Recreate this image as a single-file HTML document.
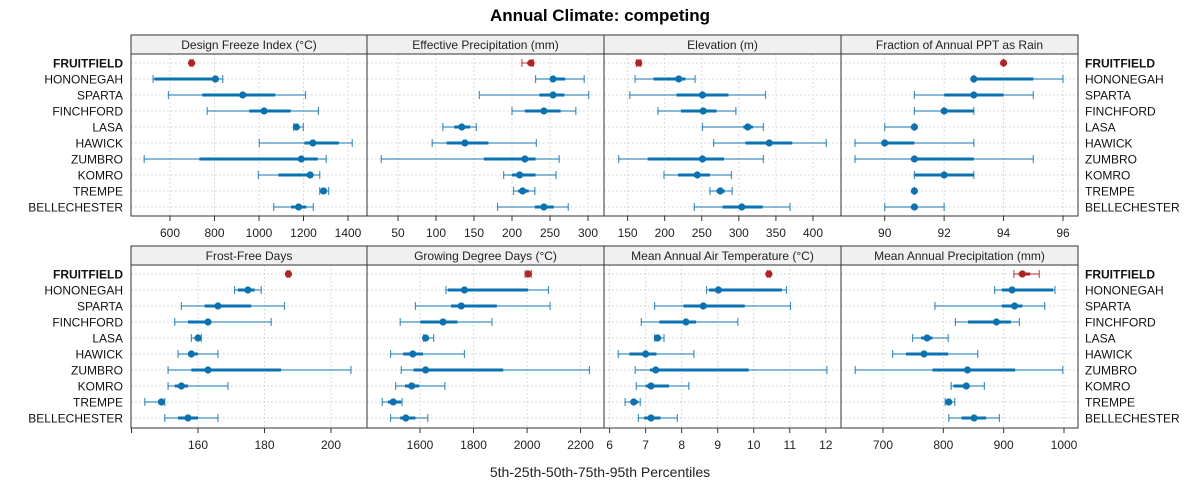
<!DOCTYPE html>
<html><head><meta charset="utf-8">
<style>
html,body{margin:0;padding:0;background:#fff;}
svg{display:block;font-family:"Liberation Sans",sans-serif;}
</style></head>
<body>
<svg id="chart" width="1200" height="500" viewBox="0 0 1200 500" xmlns="http://www.w3.org/2000/svg">
<text x="600" y="21" text-anchor="middle" font-size="17" font-weight="bold" fill="#000">Annual Climate: competing</text>
<text x="600" y="477" text-anchor="middle" font-size="14" fill="#222">5th-25th-50th-75th-95th Percentiles</text>
<g id="plots"></g>
</svg>
<script>
const stations = ["FRUITFIELD","HONONEGAH","SPARTA","FINCHFORD","LASA","HAWICK","ZUMBRO","KOMRO","TREMPE","BELLECHESTER"];
const panelTitles = ["Design Freeze Index (\u00B0C)","Effective Precipitation (mm)","Elevation (m)","Fraction of Annual PPT as Rain","Frost-Free Days","Growing Degree Days (\u00B0C)","Mean Annual Air Temperature (\u00B0C)","Mean Annual Precipitation (mm)"];
// percentiles per station: [p5,p25,p50,p75,p95]
const freezeIndex = [[690,695,697,700,703],[524,530,804,815,837],[593,745,927,1073,1209],[767,956,1023,1142,1267],[1156,1162,1168,1180,1199],[1001,1204,1242,1359,1419],[484,732,1190,1264,1302],[997,1087,1230,1245,1273],[1273,1280,1290,1300,1313],[1066,1144,1178,1213,1244]];
const effectivePpt = [[213,220,225,226,228],[231,251,254,270,295],[157,236,254,269,301],[200,217,242,264,284],[109,124,134,145,153],[95,114,138,169,232],[28,163,217,231,262],[189,200,210,231,258],[202,208,214,222,230],[181,230,242,255,274]];
const elevation = [[162,164,165,166,168],[160,185,219,228,241],[153,216,251,286,336],[191,222,252,270,296],[251,306,312,319,333],[266,309,341,372,418],[138,177,251,280,333],[199,218,244,261,290],[261,270,275,281,291],[240,278,304,332,369]];
const rainFraction = [[94,94,94,94,94],[93,93,93,95,96],[91,92,93,94,95],[91,92,92,93,93],[90,91,91,91,91],[89,90,90,91,93],[89,91,91,93,95],[91,91,92,93,93],[91,91,91,91,91],[90,91,91,91,92]];
const frostFree = [[186.8,187,187.2,187.4,187.6],[171,172,175,177,179],[155,162,166,176,186],[153,157,163,164,182],[158,159,160,160,161],[154,157,158,160,166],[151,158,163,185,206],[151,153,155,157,169],[144,148,149,150,150],[150,154,157,160,166]];
const gdd = [[1993,2000,2004,2010,2016],[1697,1704,1766,2004,2080],[1583,1716,1754,1887,2086],[1526,1601,1686,1740,1869],[1614,1617,1621,1630,1651],[1490,1537,1573,1611,1766],[1530,1576,1621,1911,2233],[1509,1544,1569,1597,1693],[1459,1480,1500,1530,1533],[1490,1526,1547,1583,1629]];
const maat = [[10.38,10.4,10.42,10.44,10.46],[8.69,8.76,9.02,10.78,10.91],[7.25,8.05,8.6,9.75,11.02],[6.88,7.38,8.12,8.4,9.56],[7.25,7.28,7.33,7.38,7.51],[6.24,6.55,7.0,7.3,8.34],[6.71,7.12,7.28,9.86,12.03],[6.74,7.0,7.15,7.65,8.2],[6.43,6.58,6.67,6.8,6.85],[6.8,6.96,7.15,7.41,7.88]];
const map = [[917,925,931,944,959],[885,897,914,982,985],[786,897,918,931,968],[820,841,888,912,926],[749,763,773,782,808],[716,738,768,808,857],[654,782,840,919,998],[813,817,838,843,868],[803,805,809,813,819],[809,830,851,871,893]];
const ticks1 = [600,800,1000,1200,1400];
const ticks2 = [50,100,150,200,250,300];
const ticks3 = [150,200,250,300,350,400];
const ticks4 = [90,92,94,96];
const ticks5 = [140,160,180,200];
const ticks6 = [1400,1600,1800,2000,2200];
const ticks7 = [6,7,8,9,10,11,12];
const ticks8 = [700,800,900,1000];
const tickLabels5 = ["","160","180","200"];
const tickLabels6 = ["","1600","1800","2000","2200"];

const NS = "http://www.w3.org/2000/svg";
const root = document.getElementById("plots");
function mk(tag, attrs, parent){
  const e = document.createElementNS(NS, tag);
  for (const k in attrs) e.setAttribute(k, attrs[k]);
  (parent||root).appendChild(e);
  return e;
}
const panelX = [[131,367],[367,604],[604,841],[841,1078]];
const rows = [{stripTop:35,plotTop:54,plotBot:216,firstY:63},{stripTop:246,plotTop:265,plotBot:428,firstY:274}];
// axis calibration (value,px) pairs
const scales = [[600,170,1400,348],[50,398,300,588],[150,627.6,400,813],[90,884.7,96,1063],[160,198,200,331],[1600,420,2200,580.6],[6,609.6,12,825.8],[700,883,1000,1064]];
const datasets = [freezeIndex,effectivePpt,elevation,rainFraction,frostFree,gdd,maat,map];
const tickSets = [ticks1,ticks2,ticks3,ticks4,ticks5,ticks6,ticks7,ticks8];
const tickLabelSets = [null,null,null,null,tickLabels5,tickLabels6,null,null];
const panelNames = ["design-freeze-index","effective-precipitation","elevation","fraction-rain","frost-free-days","growing-degree-days","mean-air-temperature","mean-annual-precipitation"];
const BLUE = "#0a72b0", RED = "#b22222";

for (let p=0;p<8;p++){
  const r = rows[Math.floor(p/4)], [x0,x1] = panelX[p%4];
  const [v0,px0,v1,px1] = scales[p];
  const sx = v => px0 + (v - v0) * (px1 - px0) / (v1 - v0);
  const sy = i => r.firstY + i*16;
  const g = mk("g",{});
  
  
  // strip
  const strip = mk("rect",{x:x0,y:r.stripTop,width:x1-x0,height:r.plotTop-r.stripTop,fill:"#f0f0f0",stroke:"#333","stroke-width":1},g);
  
  
  const st = mk("text",{x:(x0+x1)/2,y:r.stripTop+14,"text-anchor":"middle","font-size":12,fill:"#222"},g);
  st.textContent = panelTitles[p];
  
  
  // grid
  tickSets[p].forEach(t => {
    const x = sx(t);
    if (x > x0+1 && x < x1-1) mk("line",{x1:x,x2:x,y1:r.plotTop,y2:r.plotBot,stroke:"#cfcfcf","stroke-dasharray":"1.5,2.5"},g);
  });
  stations.forEach((s,i) => {
    mk("line",{x1:x0,x2:x1,y1:sy(i),y2:sy(i),stroke:"#cfcfcf","stroke-dasharray":"1.5,2.5"},g);
  });
  // data marks
  datasets[p].forEach((d,i) => {
    const y = sy(i), col = i===0 ? RED : BLUE;
    const m = mk("g",{},g);
    
    
    mk("line",{x1:sx(d[0]),x2:sx(d[4]),y1:y,y2:y,stroke:col,"stroke-width":1.2,"stroke-opacity":0.75},m);
    mk("line",{x1:sx(d[0]),x2:sx(d[0]),y1:y-4,y2:y+4,stroke:col,"stroke-width":1.2,"stroke-opacity":0.75},m);
    mk("line",{x1:sx(d[4]),x2:sx(d[4]),y1:y-4,y2:y+4,stroke:col,"stroke-width":1.2,"stroke-opacity":0.75},m);
    mk("line",{x1:sx(d[1]),x2:sx(d[3]),y1:y,y2:y,stroke:col,"stroke-width":3},m);
    mk("circle",{cx:sx(d[2]),cy:y,r:3.6,fill:col},m);
  });
  // panel border
  mk("rect",{x:x0,y:r.plotTop,width:x1-x0,height:r.plotBot-r.plotTop,fill:"none",stroke:"#333","stroke-width":1},g);
  // ticks
  tickSets[p].forEach((t,k) => {
    const x = sx(t);
    if (x < x0-0.5 || x > x1+0.5) return;
    mk("line",{x1:x,x2:x,y1:r.plotBot,y2:r.plotBot+5,stroke:"#333"},g);
    const lbls = tickLabelSets[p];
    const lab = lbls ? lbls[k] : String(t);
    if (lab){
      const tl = mk("text",{x:x,y:r.plotBot+21,"text-anchor":"middle","font-size":12,fill:"#222"},g);
      tl.textContent = lab;
      
      
    }
  });
}
// station labels
rows.forEach((r,ri) => {
  stations.forEach((s,i) => {
    const y = r.firstY + i*16 + 4.5;
    const l = mk("text",{x:123,y:y,"text-anchor":"end","font-size":12,fill:"#111","font-weight":i===0?"bold":"normal"});
    l.textContent = s;
    
    
    const rr = mk("text",{x:1085,y:y,"text-anchor":"start","font-size":12,fill:"#111","font-weight":i===0?"bold":"normal"});
    rr.textContent = s;
    
    
  });
});
</script>
</body></html>
